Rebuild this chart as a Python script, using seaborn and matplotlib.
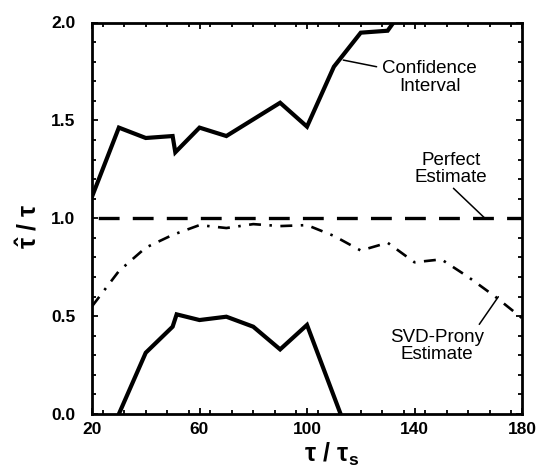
import matplotlib
matplotlib.use("Agg")
import matplotlib.pyplot as plt
from matplotlib.ticker import MultipleLocator, FixedLocator
import pandas as pd
import seaborn as sns

# ---- data ----
upper_x = [20, 30, 40, 50, 51, 60, 70, 80, 90, 100, 110, 120, 130, 140]
upper_y = [1.11, 1.463, 1.41, 1.42, 1.337, 1.463, 1.42, 1.505, 1.59, 1.468,
           1.774, 1.948, 1.958, 2.15]
lower_x = [30, 40, 50, 51.5, 60, 70, 80, 90, 100, 112.5]
lower_y = [0.0, 0.313, 0.446, 0.509, 0.48, 0.497, 0.446, 0.33, 0.455, 0.0]
svd_x = [20, 30, 40, 50, 60, 70, 80, 90, 100, 110, 120, 130, 140, 150, 160, 170, 180]
svd_y = [0.55, 0.73, 0.85, 0.915, 0.965, 0.95, 0.97, 0.96, 0.965, 0.91, 0.835,
         0.875, 0.775, 0.79, 0.70, 0.60, 0.49]
perfect_x = [20, 180]
perfect_y = [1.0, 1.0]
x_ticks = [20, 60, 100, 140, 180]
y_ticks = [0.0, 0.5, 1.0, 1.5, 2.0]

sns.set_style("ticks")
plt.rcParams["font.family"] = ["Liberation Sans", "DejaVu Sans"]
plt.rcParams["mathtext.fontset"] = "custom"
plt.rcParams["mathtext.rm"] = "Liberation Sans:bold"
plt.rcParams["mathtext.it"] = "Liberation Sans:bold"
plt.rcParams["mathtext.bf"] = "Liberation Sans:bold"
plt.rcParams["lines.scale_dashes"] = False

fig = plt.figure(figsize=(5.4, 4.72), dpi=100)
ax = fig.add_axes([92 / 540, 1 - 414 / 472, 430 / 540, 391.5 / 472])

df_up = pd.DataFrame({"x": upper_x, "y": upper_y})
df_lo = pd.DataFrame({"x": lower_x, "y": lower_y})
df_svd = pd.DataFrame({"x": svd_x, "y": svd_y})
df_pf = pd.DataFrame({"x": perfect_x, "y": perfect_y})

sns.lineplot(data=df_up, x="x", y="y", ax=ax, color="black", lw=3.0,
             sort=False, estimator=None)
sns.lineplot(data=df_lo, x="x", y="y", ax=ax, color="black", lw=3.0,
             sort=False, estimator=None)
sns.lineplot(data=df_pf, x="x", y="y", ax=ax, color="black", lw=2.4,
             sort=False, estimator=None)
ax.lines[-1].set_linestyle((20, (15, 9.5)))
sns.lineplot(data=df_svd, x="x", y="y", ax=ax, color="black", lw=1.9,
             sort=False, estimator=None)
ax.lines[-1].set_linestyle((0, (8.6, 6.1, 1.8, 6.1)))
for ln in ax.lines:
    ln.set_solid_joinstyle("miter")

ax.set_xlim(20, 180)
ax.set_ylim(0, 2.0)
ax.xaxis.set_major_locator(FixedLocator(x_ticks))
ax.yaxis.set_major_locator(FixedLocator(y_ticks))
ax.xaxis.set_minor_locator(MultipleLocator(8))
ax.yaxis.set_minor_locator(MultipleLocator(0.1))
ax.set_yticklabels([f"{v:.1f}" for v in y_ticks])
ax.set_xticklabels([str(v) for v in x_ticks])

for s in ax.spines.values():
    s.set_visible(True)
    s.set_linewidth(2.0)
    s.set_color("black")

ax.tick_params(which="both", direction="in", top=True, right=True,
               color="black", width=1.3)
ax.tick_params(which="major", length=4.5)
ax.tick_params(which="minor", length=3.2)
ax.tick_params(axis="x", which="major", pad=5.5)
ax.tick_params(axis="y", which="major", pad=12)
for lab in ax.get_xticklabels() + ax.get_yticklabels():
    lab.set_fontweight("bold")
    lab.set_fontsize(12.5)
    lab.set_color("black")

ax.set_xlabel(r"$\tau\ /\ \tau_s$", fontsize=18, color="black")
ax.set_ylabel(r"$\hat{\tau}\ /\ \tau$", fontsize=18, color="black")
ax.xaxis.set_label_coords(0.558, -0.068)
ax.yaxis.set_label_coords(-0.118, 0.48)

# annotations
txt_kw = dict(fontsize=13.5, ha="center", va="center", color="black",
              linespacing=1.05)
ax.text(145.7, 1.72, "Confidence\nInterval", **txt_kw)
ax.plot([113.5, 125.9], [1.808, 1.774], color="black", lw=1.1)
ax.text(153.6, 1.252, "Perfect\nEstimate", **txt_kw)
ax.plot([154.5, 166.2], [1.153, 1.0], color="black", lw=1.1)
ax.text(148.3, 0.347, "SVD-Prony\nEstimate", **txt_kw)
ax.plot([164.1, 171.2], [0.458, 0.599], color="black", lw=1.1)

fig.savefig("out.png", dpi=100)
